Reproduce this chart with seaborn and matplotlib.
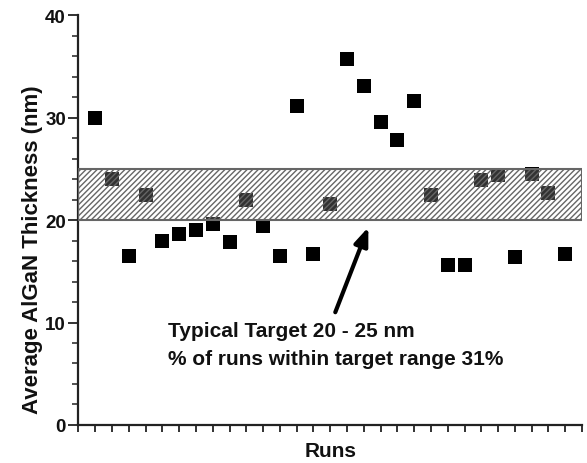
import matplotlib
matplotlib.use("Agg")
import matplotlib.pyplot as plt
import seaborn as sns
import pandas as pd
from matplotlib.ticker import MultipleLocator, NullFormatter
from matplotlib.patches import Rectangle

runs = list(range(1, 30))
thickness = [30.0, 24.0, 16.5, 22.4, 18.0, 18.6, 19.0, 19.6, 17.9, 22.0,
             19.4, 16.5, 31.1, 16.7, 21.6, 35.7, 33.1, 29.6, 27.8, 31.6,
             22.4, 15.6, 15.6, 23.9, 24.4, 16.4, 24.5, 22.6, 16.7]
target_low, target_high = 20, 25
ylabel = "Average AlGaN Thickness (nm)"
xlabel = "Runs"
note_lines = ["Typical Target 20 - 25 nm", "% of runs within target range 31%"]

df = pd.DataFrame({"run": runs, "thickness": thickness})

sns.set_theme(style="ticks")
plt.rcParams["font.family"] = ["Liberation Sans", "DejaVu Sans"]
plt.rcParams["hatch.color"] = "#555555"
plt.rcParams["hatch.linewidth"] = 1.0

fig = plt.figure(figsize=(5.87, 4.64), dpi=100)
ax = fig.add_axes([0.1337, 0.0819, 0.8578, 0.8836])

sns.scatterplot(data=df, x="run", y="thickness", marker="s", s=95,
                color="black", linewidth=0, ax=ax, zorder=2)

band = Rectangle((0, target_low), 30, target_high - target_low,
                 facecolor=(1, 1, 1, 0.2), edgecolor="#666666",
                 hatch="//////", linewidth=1.5, zorder=3)
ax.add_patch(band)

ax.set_xlim(0, 30)
ax.set_ylim(0, 40)
ax.xaxis.set_major_locator(MultipleLocator(1))
ax.xaxis.set_major_formatter(NullFormatter())
ax.yaxis.set_major_locator(MultipleLocator(10))
ax.yaxis.set_minor_locator(MultipleLocator(2))

for s in ["top", "right"]:
    ax.spines[s].set_visible(False)
for s in ["left", "bottom"]:
    ax.spines[s].set_linewidth(1.6)
    ax.spines[s].set_color("#222222")

ax.tick_params(axis="x", which="major", direction="out", length=5, width=1.3, color="#222222")
ax.tick_params(axis="y", which="major", direction="out", length=7, width=1.3, color="#222222",
               labelsize=13.5, pad=2, labelcolor="#111111")
ax.tick_params(axis="y", which="minor", direction="out", length=4, width=1.1, color="#222222")
for lab in ax.get_yticklabels():
    lab.set_fontweight("bold")

ax.set_xlabel(xlabel, fontsize=15, fontweight="bold", va="center", color="#111111")
ax.xaxis.set_label_coords(0.5, -0.063)
ax.set_ylabel(ylabel, fontsize=16, fontweight="bold", va="center", color="#111111")
ax.yaxis.set_label_coords(-0.092, 0.43)

ax.text(5.35, 9.2, note_lines[0], fontsize=15, fontweight="bold", ha="left", va="center",
        color="#111111")
ax.text(5.35, 6.5, note_lines[1], fontsize=15, fontweight="bold", ha="left", va="center",
        color="#111111")
ax.annotate("", xy=(17.27, 19.3), xytext=(15.3, 11.0),
            arrowprops=dict(arrowstyle="-|>,head_length=0.9,head_width=0.35",
                            color="black", lw=3, shrinkA=0, shrinkB=0), zorder=4)

fig.savefig("out.png", dpi=100)
